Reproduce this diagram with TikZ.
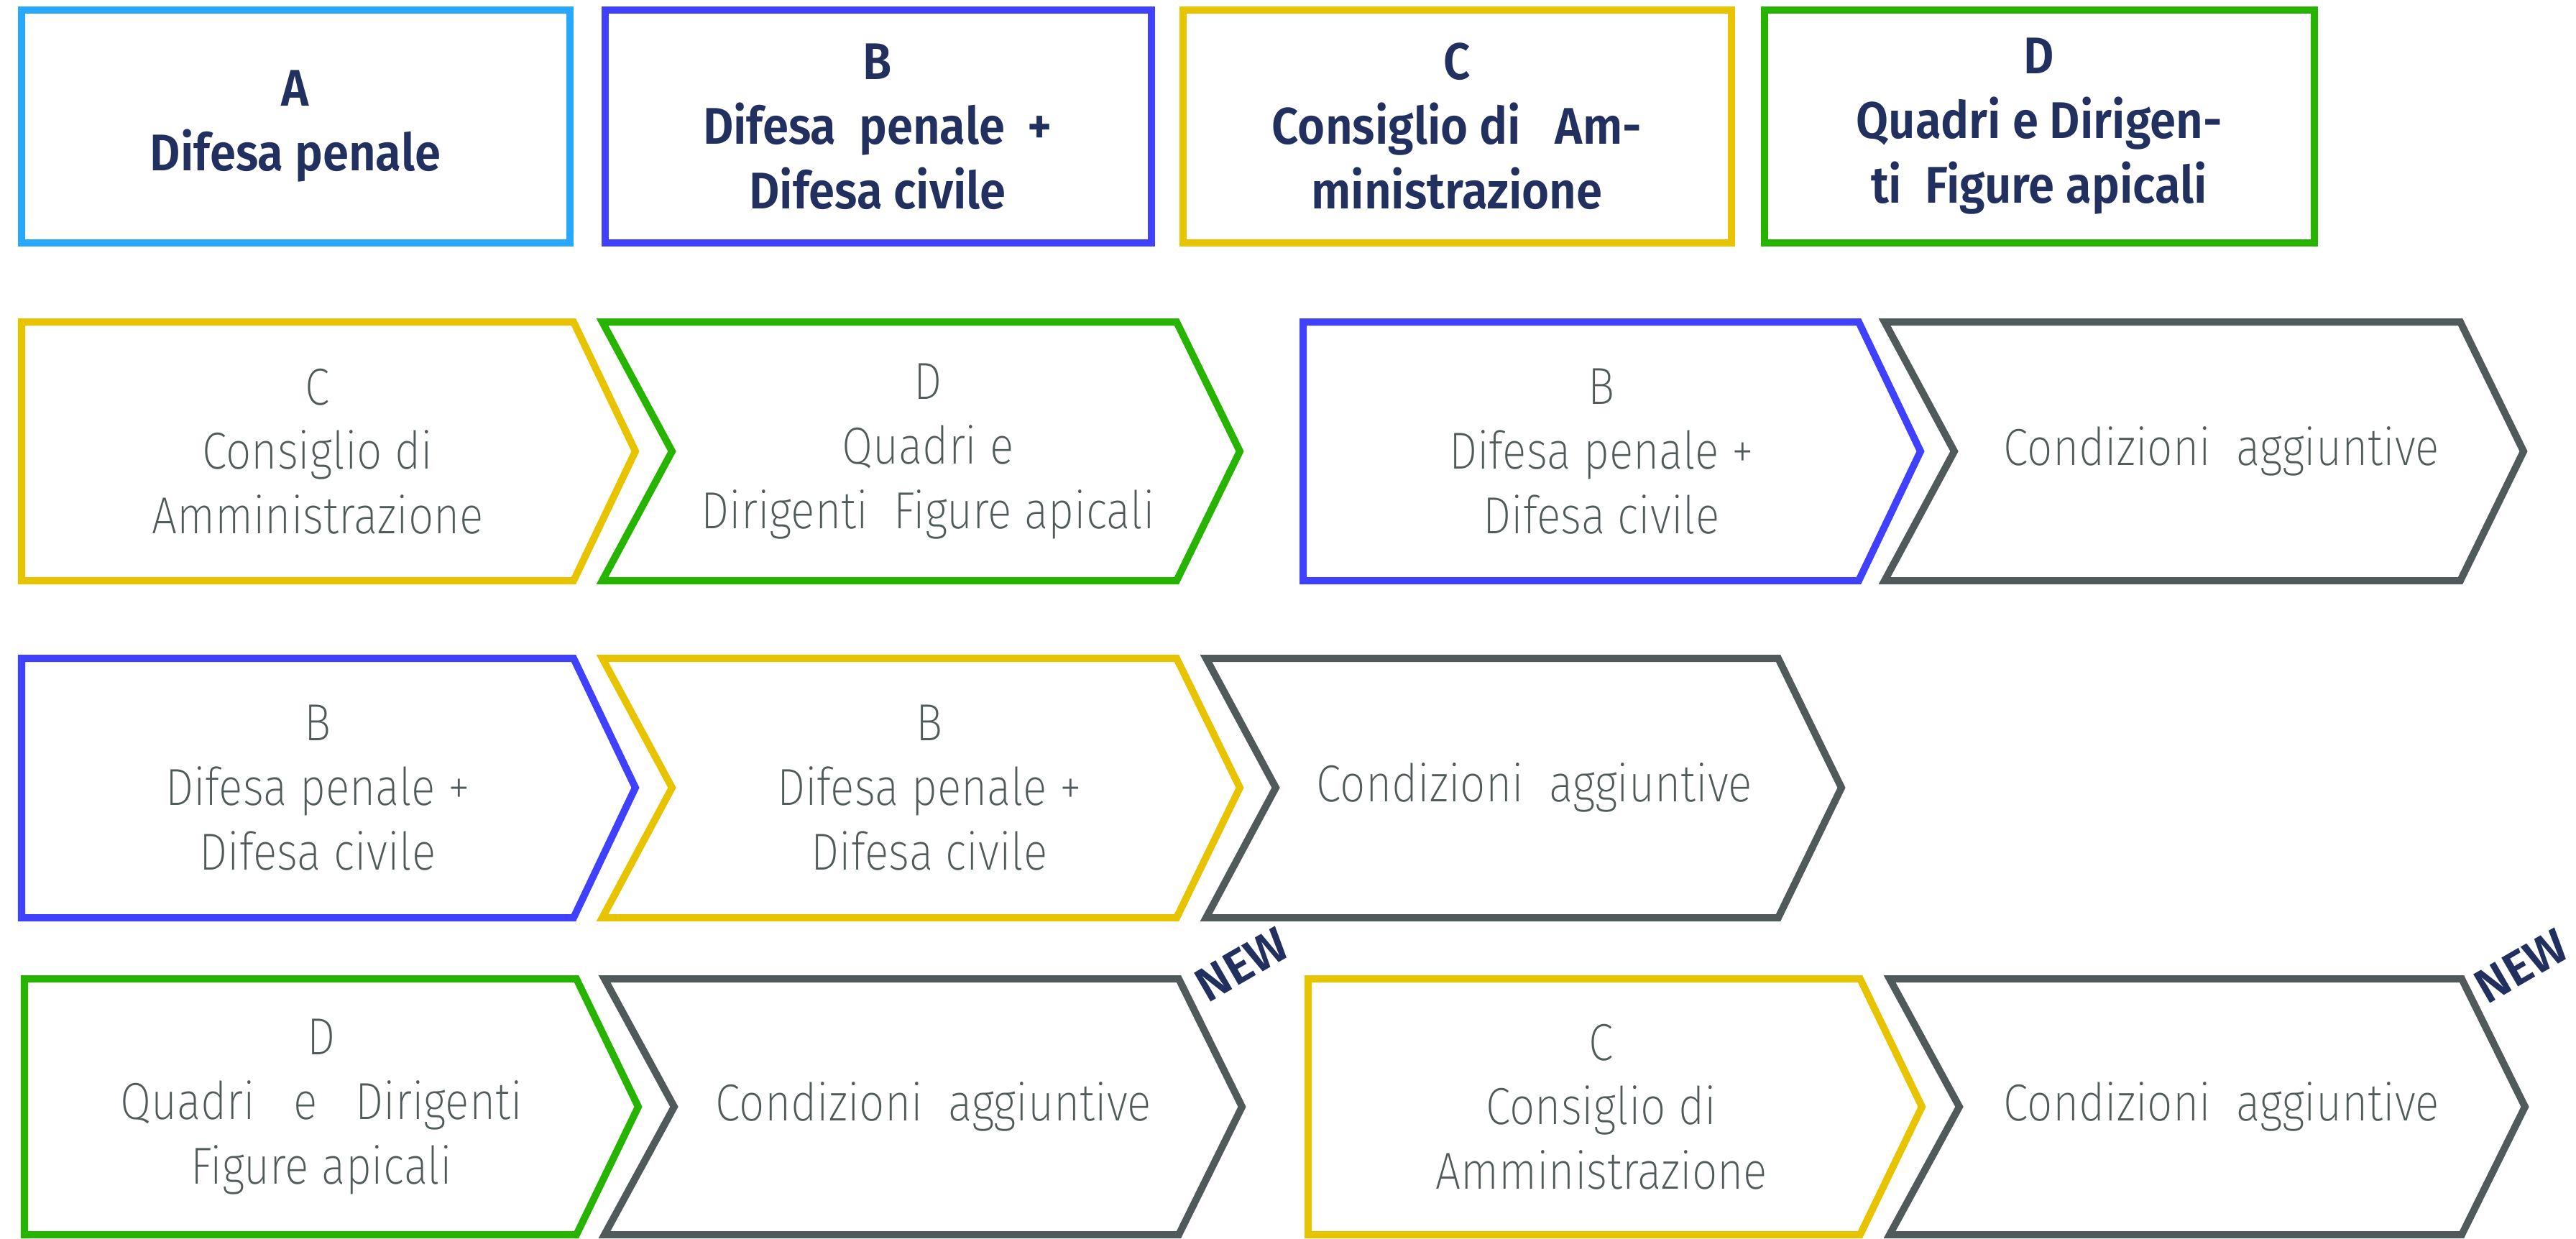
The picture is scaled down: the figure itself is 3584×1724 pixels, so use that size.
\documentclass[tikz,border=0pt]{standalone}
\usepackage{fontspec}
\newfontfamily\headfont{Fira Sans SemiBold}[FakeStretch=0.91]
\newfontfamily\bodyfont{Fira Sans ExtraLight}[FakeStretch=0.86]
\newfontfamily\tagfont{Fira Sans SemiBold}
\definecolor{skyb}{RGB}{38,168,255}
\definecolor{royal}{RGB}{64,64,255}
\definecolor{gold}{RGB}{232,195,0}
\definecolor{leaf}{RGB}{38,180,0}
\definecolor{slate}{RGB}{81,90,90}
\definecolor{navy}{RGB}{34,48,96}
\tikzset{
  frame/.style={line width=1mm, line join=miter},
  head/.style={font=\headfont\fontsize{20.4}{25.6}\selectfont, text=navy, align=center},
  body/.style={font=\bodyfont\fontsize{20.6}{25.5}\selectfont, text=slate, align=center},
  newtag/.style={font=\tagfont\fontsize{19}{23}\selectfont, text=navy, rotate=30, inner sep=1pt}
}

\begin{document}
\begin{tikzpicture}[x=0.01cm, y=-0.01cm]
    \useasboundingbox (0,0) rectangle (3584,1724);
    \draw[frame, draw=skyb] (30,14) rectangle (793,338);
    \draw[frame, draw=royal] (842,14) rectangle (1602,338);
    \draw[frame, draw=gold] (1646,14) rectangle (2409,338);
    \draw[frame, draw=leaf] (2455,14) rectangle (3220,338);
    \node[head] (a) at (411,176) {A\\Difesa penale};
    \node[head] (b) at (1221,176) {B\\Difesa~~penale~~+\\Difesa civile};
    \node[head] (c) at (2027,176) {C\\Consiglio di~~~Am-\\ministrazione};
    \node[head] (d) at (2837,176) {D\\Quadri e Dirigen-\\ti~~Figure apicali};

    \draw[frame, draw=gold] (30,448) -- (798,448) -- (884,628) -- (798,808) -- (30,808) -- cycle;
    \draw[frame, draw=leaf] (838,448) -- (1637,448) -- (1725,628) -- (1637,808) -- (838,808) -- (935,628) -- cycle;
    \draw[frame, draw=royal] (1813,448) -- (2586,448) -- (2672,628) -- (2586,808) -- (1813,808) -- cycle;
    \draw[frame, draw=slate] (2622,448) -- (3423,448) -- (3511,628) -- (3423,808) -- (2622,808) -- (2719,628) -- cycle;
    \node[body] (c2) at (442,628) {C\\Consiglio di\\Amministrazione};
    \node[body] (d2) at (1291,628) {D\\Quadri e\\Dirigenti~~Figure apicali};
    \node[body] (b2) at (2228,628) {B\\Difesa penale +\\Difesa civile};
    \node[body] (x2) at (3091,628) {Condizioni~~aggiuntive};

    \draw[frame, draw=royal] (30,916) -- (798,916) -- (884,1096) -- (798,1277) -- (30,1277) -- cycle;
    \draw[frame, draw=gold] (838,916) -- (1637,916) -- (1725,1096) -- (1637,1277) -- (838,1277) -- (935,1096) -- cycle;
    \draw[frame, draw=slate] (1678,916) -- (2474,916) -- (2562,1096) -- (2474,1277) -- (1678,1277) -- (1775,1096) -- cycle;
    \node[body] (b3a) at (442,1096) {B\\Difesa penale +\\Difesa civile};
    \node[body] (b3b) at (1293,1096) {B\\Difesa penale +\\Difesa civile};
    \node[body] (x3) at (2135,1096) {Condizioni~~aggiuntive};

    \draw[frame, draw=leaf] (34,1362) -- (802,1362) -- (888,1540) -- (802,1718) -- (34,1718) -- cycle;
    \draw[frame, draw=slate] (841,1362) -- (1640,1362) -- (1728,1540) -- (1640,1718) -- (841,1718) -- (938,1540) -- cycle;
    \draw[frame, draw=gold] (1820,1362) -- (2588,1362) -- (2674,1540) -- (2588,1718) -- (1820,1718) -- cycle;
    \draw[frame, draw=slate] (2629,1362) -- (3425,1362) -- (3513,1540) -- (3425,1718) -- (2629,1718) -- (2726,1540) -- cycle;
    \node[body] (d4) at (447,1540) {D\\Quadri~~~e~~~Dirigenti\\Figure apicali};
    \node[body] (x4a) at (1299,1540) {Condizioni~~aggiuntive};
    \node[body] (c4) at (2228,1540) {C\\Consiglio di\\Amministrazione};
    \node[body] (x4b) at (3091,1540) {Condizioni~~aggiuntive};
    \node[newtag] (new1) at (1728,1342) {NEW};
    \node[newtag] (new2) at (3508,1344) {NEW};
\end{tikzpicture}
\end{document}
